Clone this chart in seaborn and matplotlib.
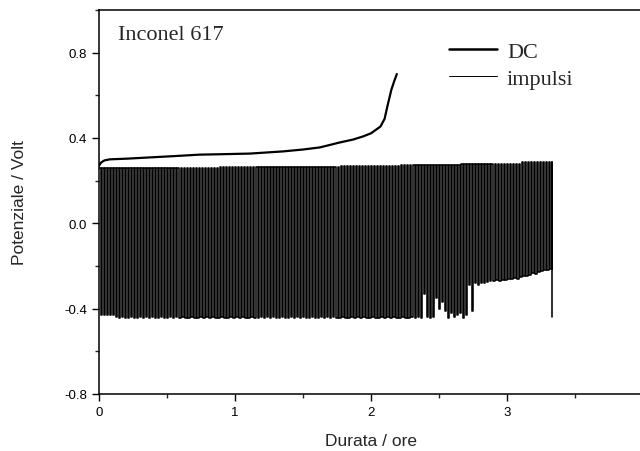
import numpy as np
import pandas as pd
import seaborn as sns
import matplotlib.pyplot as plt
from matplotlib.lines import Line2D
from matplotlib.ticker import MultipleLocator, FuncFormatter

# DC curve (hours, volt)
dc_time = [0.0, 0.015, 0.04, 0.08, 0.2, 0.375, 0.55, 0.74, 0.9, 1.11, 1.35, 1.5,
           1.625, 1.77, 1.87, 1.94, 2.0, 2.07, 2.1, 2.12, 2.15, 2.17, 2.19]
dc_volt = [0.27, 0.285, 0.295, 0.30, 0.303, 0.309, 0.315, 0.322, 0.324, 0.327, 0.337, 0.346,
           0.356, 0.379, 0.393, 0.407, 0.422, 0.454, 0.49, 0.547, 0.627, 0.665, 0.70]

# pulsed run: one high/low pair per pulse
pulse_period = 0.0222  # hours between pulses
pulse_high = ([0.258] * 20 + [0.260] * 20 + [0.262] * 20 + [0.265] * 20 + [0.270] * 20
              + [0.274] * 20 + [0.280] * 20 + [0.286] * 10)
pulse_low = ([-0.43] * 5
             + [-0.44, -0.445, -0.44, -0.443, -0.445, -0.44, -0.442, -0.445, -0.44, -0.443] * 10
             + [-0.44, -0.443, -0.33, -0.44, -0.445, -0.44, -0.35, -0.40, -0.37, -0.41,
                -0.445, -0.42, -0.44, -0.43, -0.42, -0.445, -0.43, -0.29, -0.41, -0.28,
                -0.29, -0.28, -0.28, -0.275, -0.27, -0.27, -0.265, -0.27, -0.265, -0.265,
                -0.26, -0.262, -0.258, -0.26, -0.25, -0.245, -0.248, -0.24, -0.235, -0.238,
                -0.23, -0.225, -0.22, -0.218, -0.215])
pulse_final_low = -0.44

# build the zig-zag path of the pulse trace
rows = []
for k, (hi, lo) in enumerate(zip(pulse_high, pulse_low)):
    t0 = k * pulse_period
    rows += [(t0, hi), (t0 + pulse_period / 2, hi),
             (t0 + pulse_period / 2, lo), (t0 + pulse_period, lo)]
t_end = len(pulse_high) * pulse_period
rows += [(t_end, pulse_high[-1]), (t_end, pulse_final_low)]
df_pulse = pd.DataFrame(rows, columns=["t", "v"])
df_dc = pd.DataFrame({"t": dc_time, "v": dc_volt})

sns.set_style("ticks")
plt.rcParams["font.family"] = ["Liberation Sans", "DejaVu Sans"]
plt.rcParams["axes.unicode_minus"] = False

fig = plt.figure(figsize=(6.4, 4.52), dpi=100)
ax = fig.add_axes([99 / 640, 57 / 452, 544 / 640, 384 / 452])

sns.lineplot(data=df_pulse, x="t", y="v", sort=False, estimator=None,
             color="black", linewidth=1.15, ax=ax)
sns.lineplot(data=df_dc, x="t", y="v", sort=False, estimator=None,
             color="black", linewidth=1.6, ax=ax)

ax.set_xlim(0, 4)
ax.set_ylim(-0.8, 1.0)
ax.xaxis.set_major_locator(MultipleLocator(1))
ax.xaxis.set_minor_locator(MultipleLocator(0.5))
ax.yaxis.set_major_locator(MultipleLocator(0.4))
ax.yaxis.set_minor_locator(MultipleLocator(0.2))
ax.set_yticks([-0.8, -0.4, 0.0, 0.4, 0.8])
ax.yaxis.set_major_formatter(FuncFormatter(lambda v, p: f"{v:.1f}"))
ax.tick_params(which="major", direction="out", length=5, width=1, labelsize=9.5, colors="black")
ax.tick_params(which="minor", direction="out", length=3, width=1)
for s in ax.spines.values():
    s.set_linewidth(1.1)
    s.set_color("black")

ax.set_xlabel("Durata / ore", fontsize=12.5)
ax.set_ylabel("Potenziale / Volt", fontsize=12.5)
ax.xaxis.label.set_verticalalignment("center")
ax.yaxis.label.set_verticalalignment("center")
ax.xaxis.set_label_coords(0.5, -(442 - 395) / 384)
ax.yaxis.set_label_coords((20 - 99) / 544, 0.5)

ax.text(0.035, 0.9375, "Inconel 617", transform=ax.transAxes, ha="left", va="center",
        fontsize=16, family="Liberation Serif")

handles = [Line2D([], [], color="black", linewidth=1.8),
           Line2D([], [], color="black", linewidth=0.7)]
ax.legend(handles, ["DC", "impulsi"], loc="upper left",
          bbox_to_anchor=(449 / 640, 1 - 42 / 452), bbox_transform=fig.transFigure,
          frameon=False, borderpad=0, borderaxespad=0, handlelength=2.16,
          handletextpad=0.45, labelspacing=0.32,
          prop={"family": "Liberation Serif", "size": 16})

fig.savefig("out.png", dpi=100)
